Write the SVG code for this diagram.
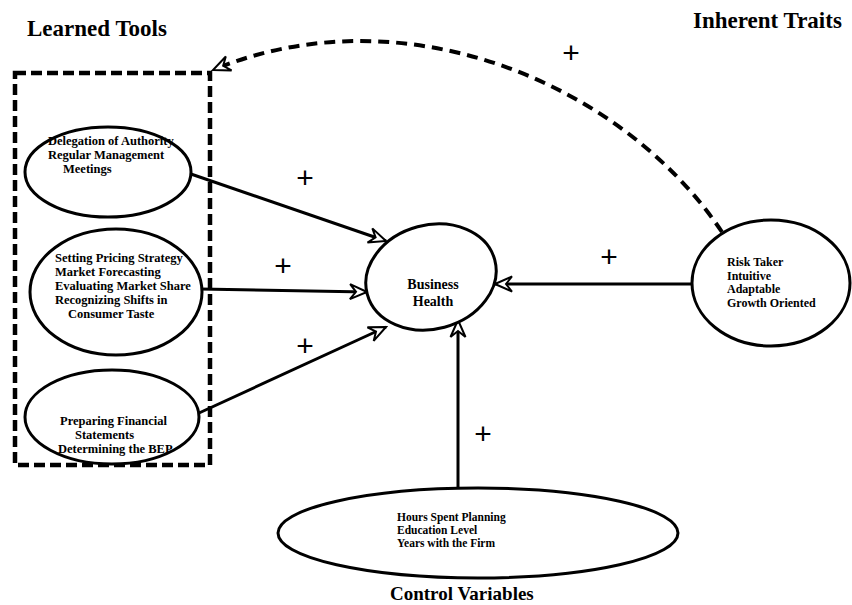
<svg xmlns="http://www.w3.org/2000/svg" width="852" height="605" viewBox="0 0 852 605">
<defs>
<style>
.node{fill:#fff;stroke:#000;stroke-width:3}
.lbl{font-family:"Liberation Serif","Times New Roman",serif;font-weight:bold;fill:#000}
.sm{font-size:12.5px}
.title{font-size:23px}
.plus{font-family:"Liberation Sans",Arial,sans-serif;font-size:30px;text-anchor:middle;fill:#000}
.edge{fill:none;stroke:#000;stroke-width:3}
</style>
<marker id="open" viewBox="-19 -9 21 18" refX="0" refY="0" markerWidth="21" markerHeight="18" markerUnits="userSpaceOnUse" orient="auto">
<path d="M0,0 L-17,-7.5 L-11,0 L-17,7.5 Z" fill="#fff" stroke="#000" stroke-width="2" stroke-linejoin="miter"/>
</marker>
</defs>
<rect width="852" height="605" fill="#fff"/>

<text class="lbl title" x="27" y="36">Learned Tools</text>
<text class="lbl title" x="693" y="28">Inherent Traits</text>
<text class="lbl" x="390" y="600" font-size="19">Control Variables</text>

<g id="connectors">
<line class="edge" x1="188" y1="173" x2="386" y2="241" marker-end="url(#open)"/>
<line class="edge" x1="200" y1="289" x2="367" y2="292" marker-end="url(#open)"/>
<line class="edge" x1="199" y1="413" x2="386" y2="327" marker-end="url(#open)"/>
<line class="edge" x1="691" y1="284" x2="495" y2="284" marker-end="url(#open)"/>
<line class="edge" x1="458" y1="490" x2="458" y2="320" marker-end="url(#open)"/>
<path d="M722,232 C620,80 400,-8 213,70" fill="none" stroke="#000" stroke-width="4" stroke-dasharray="11 7" marker-end="url(#open)"/>
</g>

<g id="learned-tools-box">
<rect x="15" y="73" width="195" height="392" fill="none" stroke="#000" stroke-width="4.5" stroke-dasharray="11 5"/>
</g>

<g id="delegation">
<ellipse class="node" cx="108" cy="172" rx="83" ry="45"/>
<text class="lbl sm" x="48" y="145">Delegation of Authority</text>
<text class="lbl sm" x="48" y="159">Regular Management</text>
<text class="lbl sm" x="63" y="173">Meetings</text>
</g>

<g id="pricing">
<ellipse class="node" cx="116" cy="292" rx="86" ry="63"/>
<text class="lbl sm" x="55" y="262">Setting Pricing Strategy</text>
<text class="lbl sm" x="55" y="276">Market Forecasting</text>
<text class="lbl sm" x="55" y="290">Evaluating Market Share</text>
<text class="lbl sm" x="55" y="304">Recognizing Shifts in</text>
<text class="lbl sm" x="68" y="318">Consumer Taste</text>
</g>

<g id="financial">
<ellipse class="node" cx="112" cy="417" rx="87" ry="47"/>
<text class="lbl sm" x="60" y="425">Preparing Financial</text>
<text class="lbl sm" x="75" y="439">Statements</text>
<text class="lbl sm" x="58" y="453">Determining the BEP</text>
</g>

<g id="business-health">
<ellipse class="node" cx="431" cy="277" rx="66" ry="52" transform="rotate(-15 431 277)"/>
<text class="lbl" x="433" y="289" font-size="14" text-anchor="middle">Business</text>
<text class="lbl" x="433" y="306" font-size="14" text-anchor="middle">Health</text>
</g>

<g id="inherent-traits">
<ellipse class="node" cx="771" cy="283" rx="79" ry="63"/>
<text class="lbl" x="727" y="266" font-size="12">Risk Taker</text>
<text class="lbl" x="727" y="279.5" font-size="12">Intuitive</text>
<text class="lbl" x="727" y="293" font-size="12">Adaptable</text>
<text class="lbl" x="727" y="306.5" font-size="12">Growth Oriented</text>
</g>

<g id="control-variables">
<ellipse class="node" cx="478" cy="533" rx="200" ry="45"/>
<text class="lbl" x="397" y="521" font-size="11.5">Hours Spent Planning</text>
<text class="lbl" x="397" y="534" font-size="11.5">Education Level</text>
<text class="lbl" x="397" y="547" font-size="11.5">Years with the Firm</text>
</g>

<g id="signs">
<text class="plus" x="571" y="63">+</text>
<text class="plus" x="305" y="188">+</text>
<text class="plus" x="283" y="276">+</text>
<text class="plus" x="305" y="356">+</text>
<text class="plus" x="609" y="267">+</text>
<text class="plus" x="483" y="444">+</text>
</g>
</svg>
